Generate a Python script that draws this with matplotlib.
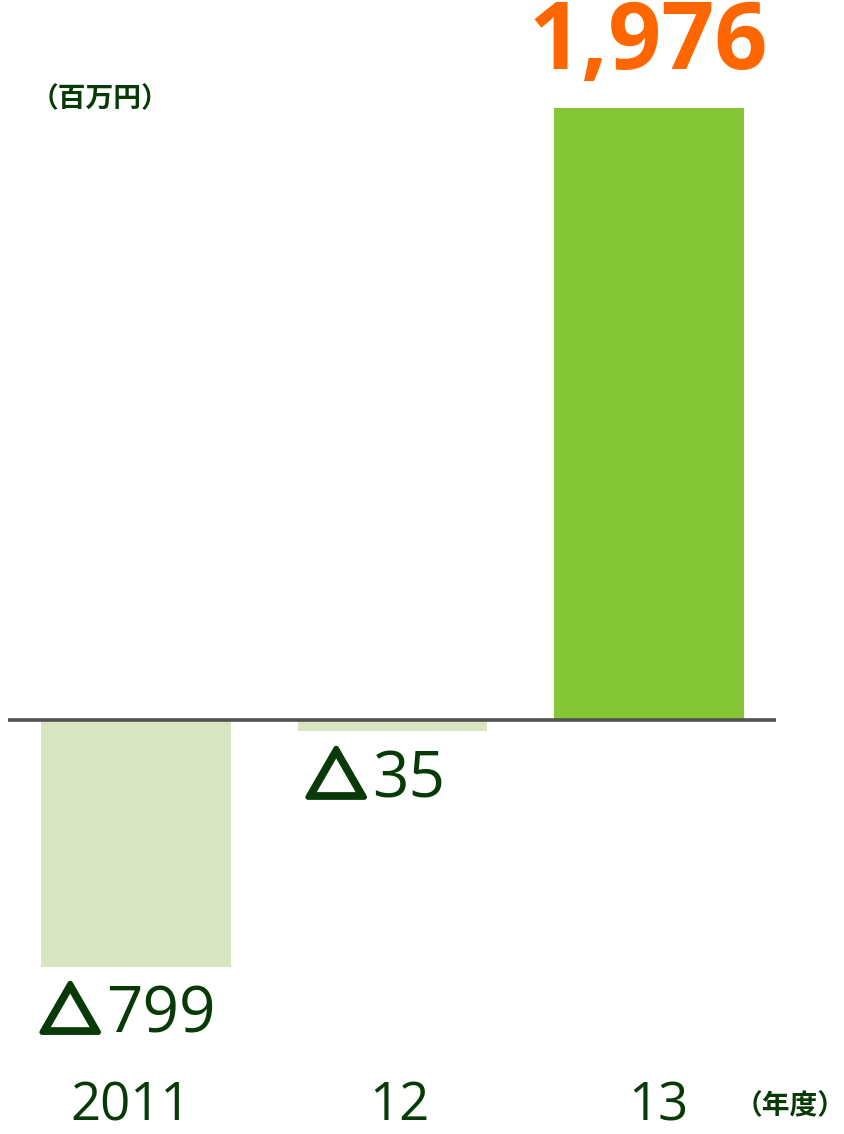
import matplotlib
matplotlib.use('Agg')
import matplotlib.pyplot as plt
import matplotlib.patheffects as pe

years = ['2011', '12', '13']
values = [-799, -35, 1976]
labels = ['799', '35', '1,976']

plt.rcParams['font.family'] = ['Open Sans', 'Noto Sans CJK JP', 'DejaVu Sans']

dark = '#073a07'
fig = plt.figure(figsize=(8.44, 11.34), dpi=100)
ax = fig.add_axes([0, 0, 1, 1])

# pixel-ish layout: bar spacing 256.5px, 0.3097 px per unit
ax.set_xlim(-136 / 256.5, (844 - 136) / 256.5)
ax.set_ylim(-414 / 0.3097, 720 / 0.3097)
ax.axis('off')

colors = ['#d9e4c0', '#d9e4c0', '#84c636']
x = range(len(values))
ax.bar(x, values, width=0.74, color=colors, zorder=1)
ax.plot([-0.499, 2.495], [0, 0], color='#505050', lw=2.6, zorder=2, solid_capstyle='butt')

# negative labels: heavy triangle + regular digits
thick = [pe.withStroke(linewidth=4, foreground=dark)]
neg = [(-0.125, values[0] - 155, labels[0]), (0.912, values[1] - 160, labels[1])]
for xs, ys, t in neg:
    ax.text(xs - 0.015, ys - 3, '△', ha='right', va='center', fontsize=43,
            family=['Noto Sans CJK JP'], color=dark, path_effects=thick)
    ax.text(xs + 0.01, ys, t, ha='left', va='center', fontsize=46, color=dark)

ax.text(1.995, 2180, labels[2], ha='center', va='center', fontsize=67, fontweight='bold', color='#ff6600')

# year labels
year_x = [-0.02, 1.025, 2.035]
for xi, yr in zip(year_x, years):
    ax.text(xi, -1248, yr, ha='center', va='center', fontsize=38, color=dark)

ax.text(2.55, -1250, '（年度）', ha='center', va='center', fontsize=20, fontweight='bold', color=dark)
ax.text(-0.14, 2003, '（百万円）', ha='center', va='center', fontsize=20, fontweight='bold', color=dark)

fig.savefig('out.png', dpi=100)
